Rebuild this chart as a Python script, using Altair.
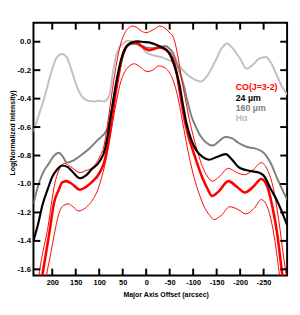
import altair as alt
import pandas as pd

# ---- data ----
ha_x = [240, 228, 214, 200, 190, 179, 169, 158, 148, 138, 124, 110, 100, 90, 82, 77, 71, 64, 57, 50, 42, 36, 28, 15, 0, -6, -20, -34, -48, -62, -75, -89, -106, -116, -130, -148, -160, -172, -185, -200, -214, -226, -240, -255, -266, -276, -288, -300]
ha_y = [-0.63, -0.51, -0.36, -0.19, -0.108, -0.086, -0.11, -0.21, -0.31, -0.38, -0.415, -0.42, -0.415, -0.42, -0.40, -0.36, -0.22, -0.10, -0.04, -0.017, 0.005, 0.007, 0.0, -0.017, -0.075, -0.085, -0.10, -0.11, -0.13, -0.15, -0.19, -0.235, -0.27, -0.28, -0.24, -0.13, -0.05, -0.012, -0.05, -0.12, -0.19, -0.165, -0.12, -0.108, -0.15, -0.22, -0.31, -0.37]

g_x = [240, 228, 218, 207, 196, 186, 177, 169, 158, 144, 124, 103, 82, 75, 68, 60, 52, 45, 38, 30, 22, 10, 1, -12, -27, -41, -50, -58, -65, -72, -80, -88, -96, -106, -115, -128, -142, -155, -168, -183, -196, -215, -231, -250, -266, -280, -300]
g_y = [-1.14, -0.99, -0.91, -0.855, -0.80, -0.78, -0.81, -0.85, -0.84, -0.81, -0.76, -0.69, -0.61, -0.50, -0.38, -0.25, -0.13, -0.06, -0.025, -0.017, -0.017, -0.03, -0.04, -0.045, -0.04, -0.03, -0.05, -0.085, -0.15, -0.22, -0.31, -0.42, -0.52, -0.60, -0.66, -0.71, -0.73, -0.70, -0.67, -0.68, -0.71, -0.74, -0.75, -0.78, -0.86, -0.97, -1.11]

b_x = [240, 230, 221, 210, 200, 190, 179, 168, 158, 141, 128, 117, 99, 88, 82, 76, 70, 64, 58, 52, 45, 38, 30, 19, 5, -6, -16, -27, -44, -52, -61, -67, -72, -77, -85, -95, -106, -120, -134, -150, -169, -183, -196, -210, -224, -240, -250, -266, -276, -287, -300]
b_y = [-1.40, -1.28, -1.15, -1.04, -0.95, -0.90, -0.87, -0.88, -0.91, -0.96, -0.94, -0.90, -0.84, -0.76, -0.66, -0.53, -0.41, -0.29, -0.19, -0.11, -0.05, -0.02, -0.005, 0.002, -0.002, -0.005, -0.015, -0.03, -0.06, -0.10, -0.18, -0.25, -0.32, -0.42, -0.56, -0.68, -0.76, -0.81, -0.83, -0.81, -0.79, -0.83, -0.88, -0.90, -0.91, -0.92, -0.94, -1.04, -1.10, -1.18, -1.29]

ct_x = [230, 222, 215, 207, 196, 186, 179, 170, 158, 141, 128, 117, 99, 88, 82, 76, 70, 64, 58, 52, 45, 38, 30, 22, 12, 2, -6, -16, -27, -38, -51, -58, -65, -71, -78, -85, -92, -99, -110, -120, -130, -140, -155, -175, -193, -210, -228, -245, -258, -268, -278, -290, -298]
ct_y = [-1.85, -1.66, -1.52, -1.36, -1.13, -1.04, -0.99, -0.98, -1.00, -1.04, -1.02, -0.99, -0.92, -0.83, -0.73, -0.60, -0.47, -0.34, -0.22, -0.12, -0.05, -0.02, -0.007, -0.005, -0.025, -0.05, -0.06, -0.052, -0.04, -0.05, -0.085, -0.13, -0.22, -0.34, -0.48, -0.60, -0.69, -0.76, -0.87, -0.96, -1.03, -1.085, -1.05, -0.98, -1.02, -1.06, -1.02, -0.965, -1.02, -1.15, -1.33, -1.645, -1.85]

cu_x = [234, 228, 220, 210, 200, 196, 189, 182, 175, 165, 158, 141, 128, 117, 99, 89, 84, 78, 72, 66, 59, 52, 44, 36, 30, 20, 10, 1, -10, -20, -29, -40, -51, -58, -65, -72, -78, -85, -92, -100, -110, -120, -130, -141, -155, -175, -193, -210, -228, -245, -258, -270, -282, -292, -298, -305]
cu_y = [-1.85, -1.64, -1.48, -1.32, -1.10, -1.02, -0.93, -0.88, -0.855, -0.87, -0.885, -0.92, -0.905, -0.89, -0.81, -0.72, -0.62, -0.48, -0.34, -0.21, -0.08, 0.01, 0.07, 0.10, 0.11, 0.10, 0.075, 0.064, 0.075, 0.095, 0.11, 0.095, 0.06, 0.03, -0.06, -0.19, -0.31, -0.43, -0.55, -0.66, -0.78, -0.88, -0.945, -0.98, -0.95, -0.89, -0.92, -0.935, -0.90, -0.85, -0.90, -1.02, -1.25, -1.50, -1.645, -1.85]

cl_x = [220, 212, 205, 196, 186, 176, 166, 156, 144, 130, 118, 103, 92, 82, 75, 68, 61, 54, 47, 40, 32, 25, 12, -2, -14, -27, -38, -48, -56, -62, -68, -75, -85, -95, -105, -115, -125, -135, -144, -160, -178, -196, -212, -230, -245, -255, -265, -275, -284, -292]
cl_y = [-1.85, -1.64, -1.52, -1.36, -1.21, -1.15, -1.14, -1.16, -1.19, -1.17, -1.13, -1.04, -0.92, -0.77, -0.64, -0.50, -0.38, -0.28, -0.22, -0.185, -0.162, -0.155, -0.18, -0.21, -0.20, -0.17, -0.18, -0.21, -0.26, -0.32, -0.40, -0.52, -0.70, -0.86, -0.99, -1.09, -1.17, -1.22, -1.25, -1.22, -1.16, -1.18, -1.21, -1.17, -1.11, -1.14, -1.24, -1.42, -1.645, -1.85]

x_ticks = [200, 150, 100, 50, 0, -50, -100, -150, -200, -250]
y_ticks = [0.0, -0.2, -0.4, -0.6, -0.8, -1.0, -1.2, -1.4, -1.6]

legend_labels = ["CO(J=3-2)", "24 \u00b5m", "160 \u00b5m", "H\u03b1"]
legend_colors = ["#ff0000", "#000000", "#808080", "#c0c0c0"]

W, H = 259, 258
FONT = "Liberation Sans"

x_scale = alt.Scale(domain=[-300, 240], reverse=True, nice=False, zero=False)
y_scale = alt.Scale(domain=[-1.643, 0.133], nice=False, zero=False)

x_axis = alt.Axis(values=x_ticks, grid=False, domain=False, ticks=False, tickSize=0,
                  labelExpr="datum.value < 0 ? '-' + abs(datum.value) : '' + datum.value",
                  labelFont=FONT, labelFontWeight="bold", labelFontSize=7.5, labelPadding=3,
                  labelColor="black", title="Major Axis Offset (arcsec)", titleFont=FONT,
                  titleFontWeight="bold", titleFontSize=7.1, titleColor="black",
                  titleX=135, titleY=19, titleBaseline="middle", titleAlign="center")
y_axis = alt.Axis(values=y_ticks, grid=False, domain=False, ticks=False, tickSize=0,
                  labelExpr="datum.value < -0.001 ? '-' + format(abs(datum.value), '.1f') : format(abs(datum.value), '.1f')",
                  labelFont=FONT, labelFontWeight="bold", labelFontSize=8, labelPadding=3,
                  labelColor="black", title="Log(Normalized Intensity)", titleFont=FONT,
                  titleFontWeight="bold", titleFontSize=7.1, titleColor="black",
                  titleX=-21.5, titleY=112, titleBaseline="middle", titleAlign="center", titleAngle=270)


def series(xs, ys, color, width):
    df = pd.DataFrame({"x": xs, "y": ys})
    return alt.Chart(df).mark_line(color=color, strokeWidth=width, interpolate="monotone", clip=True).encode(
        x=alt.X("x:Q", scale=x_scale, axis=x_axis),
        y=alt.Y("y:Q", scale=y_scale, axis=y_axis),
        order=alt.Order("x:Q", sort="descending"),
    )


layers = [
    series(ha_x, ha_y, "#c0c0c0", 2),
    series(g_x, g_y, "#7f7f7f", 2),
    series(cu_x, cu_y, "#ff0000", 1),
    series(cl_x, cl_y, "#ff0000", 1),
    series(ct_x, ct_y, "#ff0000", 2.6),
    series(b_x, b_y, "#000000", 2.2),
]

xt = pd.DataFrame({"v": x_ticks})
yt = pd.DataFrame({"v": y_ticks})
tick_style = dict(color="black", strokeWidth=2)
xenc = alt.X("v:Q", scale=x_scale, axis=x_axis)
yenc = alt.Y("v:Q", scale=y_scale, axis=y_axis)
layers += [
    alt.Chart(xt).mark_rule(**tick_style).encode(x=xenc, y=alt.value(H), y2=alt.value(H - 7)),
    alt.Chart(xt).mark_rule(**tick_style).encode(x=xenc, y=alt.value(0), y2=alt.value(7)),
    alt.Chart(yt).mark_rule(**tick_style).encode(y=yenc, x=alt.value(0), x2=alt.value(7)),
    alt.Chart(yt).mark_rule(**tick_style).encode(y=yenc, x=alt.value(W), x2=alt.value(W - 7)),
]

for i, (lab, col) in enumerate(zip(legend_labels, legend_colors)):
    layers.append(
        alt.Chart(pd.DataFrame({"t": [lab]})).mark_text(
            align="left", baseline="middle", font=FONT, fontWeight="bold", fontSize=9, color=col
        ).encode(text="t:N", x=alt.value(206.5), y=alt.value(66 + i * 10.5))
    )

chart = alt.layer(*layers).properties(
    width=W, height=H,
    autosize=alt.AutoSizeParams(type="none"),
    padding={"left": 26, "top": 12, "right": 5, "bottom": 24},
    background="white",
).configure_view(stroke="black", strokeWidth=2)

chart.save("out.html", embed_options={"renderer": "svg", "actions": False})
